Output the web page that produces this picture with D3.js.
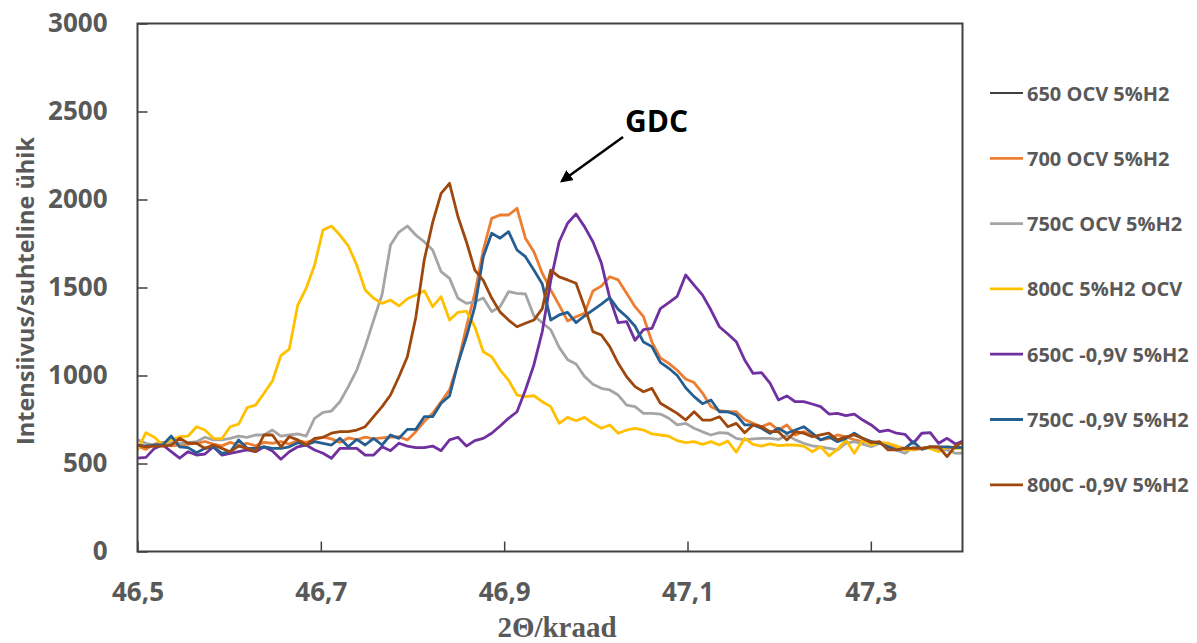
<!DOCTYPE html>
<html>
<head>
<meta charset="utf-8">
<script src="https://cdn.jsdelivr.net/npm/d3@7"></script>
<style>
  body { margin: 0; background: #fff; }
  svg { display: block; }
</style>
</head>
<body>
<svg id="chart" width="1197" height="643"></svg>
<script>
// XRD scan around the GDC reflection, 2θ grid shared by all scans
const twoThetaStart = 46.5;
const twoThetaStep = 0.0092;

const xTicks = [46.5, 46.7, 46.9, 47.1, 47.3];
const yTicks = [0, 500, 1000, 1500, 2000, 2500, 3000];

const seriesNames = [
  "650 OCV 5%H2",
  "700 OCV 5%H2",
  "750C OCV 5%H2",
  "800C 5%H2 OCV",
  "650C -0,9V 5%H2",
  "750C -0,9V 5%H2",
  "800C -0,9V 5%H2"
];
const seriesColors = ["#000000", "#ED7D31", "#A5A5A5", "#FFC000", "#7030A0", "#255E91", "#9E480E"];

// intensities (counts) per scan
const i650ocv = [];
const i700ocv = [
  600, 580, 610, 620, 600, 605, 610, 615, 625, 610,
  600, 620, 605, 615, 600, 620, 615, 625, 610, 630,
  620, 635, 650, 640, 620, 645, 635, 650, 640, 645,
  650, 652, 634, 681, 738, 785, 851, 918, 1069, 1277,
  1467, 1713, 1893, 1912, 1912, 1950, 1780, 1703, 1581, 1486,
  1400, 1310, 1334, 1353, 1480, 1508, 1561, 1543, 1467, 1391,
  1334, 1190, 1100, 1069, 1030, 980, 960, 900, 823, 800,
  794, 794, 750, 728, 709, 728, 690, 719, 662, 681,
  662, 634, 643, 662, 652, 634, 624, 624, 618, 600,
  595, 586, 577, 586, 595, 586, 586, 595, 590
];
const i750ocv = [
  634, 615, 605, 615, 618, 615, 618, 624, 649, 634,
  634, 643, 656, 649, 662, 662, 690, 656, 662, 668,
  656, 757, 791, 798, 851, 937, 1031, 1164, 1315, 1460,
  1741, 1815, 1849, 1798, 1760, 1713, 1590, 1552, 1439, 1410,
  1419, 1440, 1363, 1391, 1476, 1467, 1463, 1340, 1300, 1260,
  1160, 1090, 1065, 995, 950, 927, 918, 889, 832, 823,
  785, 785, 781, 757, 719, 728, 700, 680, 662, 675,
  672, 643, 634, 640, 643, 643, 637, 662, 634, 615,
  600, 595, 586, 577, 615, 624, 610, 595, 615, 595,
  575, 558, 595, 586, 595, 577, 577, 558, 560
];
const i800ocv = [
  577, 675, 649, 605, 634, 652, 656, 709, 690, 643,
  641, 709, 724, 817, 832, 899, 969, 1113, 1150, 1400,
  1495, 1628, 1827, 1849, 1798, 1736, 1628, 1486, 1439, 1410,
  1429, 1395, 1436, 1457, 1482, 1391, 1448, 1315, 1359, 1366,
  1277, 1135, 1107, 1031, 974, 889, 880, 885, 851, 823,
  728, 762, 743, 762, 728, 700, 719, 672, 690, 700,
  690, 668, 662, 655, 630, 618, 624, 609, 624, 605,
  628, 564, 643, 609, 599, 611, 601, 605, 605, 599,
  567, 595, 544, 580, 634, 558, 634, 605, 618, 615,
  600, 577, 580, 586, 586, 567, 595, 586, 586
];
const i650neg = [
  530, 535, 586, 605, 567, 530, 567, 548, 554, 595,
  548, 558, 567, 577, 567, 595, 571, 524, 567, 595,
  605, 577, 558, 530, 586, 586, 586, 548, 548, 595,
  573, 615, 599, 590, 590, 599, 573, 634, 649, 599,
  630, 643, 672, 713, 757, 794, 918, 1060, 1250, 1540,
  1760, 1865, 1918, 1846, 1760, 1640, 1440, 1300, 1306, 1200,
  1260, 1268, 1380, 1414, 1450, 1571, 1514, 1457, 1372, 1277,
  1236, 1192, 1088, 1012, 1016, 956, 861, 884, 851, 851,
  838, 823, 781, 785, 772, 781, 747, 719, 681, 690,
  672, 666, 615, 672, 675, 615, 643, 611, 630
];
const i750neg = [
  605, 599, 605, 605, 656, 595, 590, 561, 586, 595,
  558, 567, 634, 586, 586, 595, 586, 586, 595, 618,
  605, 624, 615, 605, 643, 595, 637, 605, 643, 605,
  662, 643, 694, 694, 766, 766, 842, 884, 1069, 1220,
  1391, 1675, 1808, 1780, 1817, 1713, 1675, 1599, 1520, 1315,
  1344, 1359, 1300, 1338, 1372, 1406, 1442, 1376, 1334, 1280,
  1190, 1164, 1075, 1041, 1000, 930, 880, 840, 861, 794,
  794, 776, 719, 719, 700, 672, 700, 672, 690, 709,
  672, 634, 652, 624, 643, 672, 643, 624, 615, 595,
  577, 586, 624, 580, 595, 595, 595, 590, 592
];
const i800neg = [
  605, 595, 599, 599, 605, 643, 615, 615, 586, 605,
  586, 567, 599, 586, 567, 662, 662, 595, 652, 634,
  605, 643, 649, 672, 681, 681, 690, 709, 766, 823,
  889, 993, 1107, 1330, 1656, 1870, 2035, 2092, 1902, 1760,
  1599, 1540, 1440, 1360, 1315, 1277, 1297, 1315, 1380, 1599,
  1560, 1543, 1524, 1391, 1249, 1230, 1164, 1069, 993, 937,
  908, 927, 842, 814, 785, 747, 794, 747, 747, 766,
  709, 728, 675, 719, 709, 681, 681, 634, 681, 672,
  652, 662, 672, 634, 652, 662, 643, 618, 624, 577,
  577, 586, 586, 586, 595, 595, 539, 600, 624
];

const seriesValues = [i650ocv, i700ocv, i750ocv, i800ocv, i650neg, i750neg, i800neg];

// ---- layout ----
const svg = d3.select("#chart");
const plot = { left: 137.5, right: 962.5, top: 23.5, bottom: 551.5 };
const grey = "#595959";
const axisColor = "#404040";
const uiFont = "'Open Sans', 'Noto Sans', sans-serif";

const x = d3.scaleLinear().domain([46.5, 47.4]).range([plot.left, plot.right]);
const y = d3.scaleLinear().domain([0, 3000]).range([plot.bottom, plot.top]);

svg.append("defs").append("clipPath").attr("id", "plot-clip")
  .append("rect")
  .attr("x", plot.left).attr("y", plot.top)
  .attr("width", plot.right - plot.left).attr("height", plot.bottom - plot.top);

// scan curves, drawn in legend order so later scans sit on top
const line = d3.line()
  .x((d, i) => x(twoThetaStart + i * twoThetaStep))
  .y(d => y(d));

const curves = svg.append("g").attr("clip-path", "url(#plot-clip)");
seriesValues.forEach((vals, k) => {
  if (!vals.length) return;
  curves.append("path")
    .datum(vals)
    .attr("d", line)
    .attr("fill", "none")
    .attr("stroke", seriesColors[k])
    .attr("stroke-width", 2.8)
    .attr("stroke-linejoin", "round")
    .attr("stroke-linecap", "round");
});

// y axis, ticks pointing into the plot
const yAxis = svg.append("g")
  .attr("transform", `translate(${plot.left},0)`)
  .call(d3.axisLeft(y).tickValues(yTicks).tickSizeInner(-10).tickSizeOuter(0).tickPadding(30)
    .tickFormat(d3.format("d")));
yAxis.select(".domain").remove();
yAxis.selectAll(".tick line").attr("stroke", axisColor).attr("stroke-width", 1.5);
yAxis.selectAll(".tick text")
  .attr("fill", grey).attr("font-family", uiFont).attr("font-weight", 700).attr("font-size", 26);

// x axis, ticks pointing up into the plot
const xAxis = svg.append("g")
  .attr("transform", `translate(0,${plot.bottom})`)
  .call(d3.axisBottom(x).tickValues(xTicks).tickSizeInner(-10).tickSizeOuter(0).tickPadding(31)
    .tickFormat(d => d3.format(".1f")(d).replace(".", ",")));
xAxis.select(".domain").remove();
xAxis.selectAll(".tick line").attr("stroke", axisColor).attr("stroke-width", 1.5);
xAxis.selectAll(".tick text")
  .attr("fill", grey).attr("font-family", uiFont).attr("font-weight", 700).attr("font-size", 26);

// plot frame
svg.append("rect")
  .attr("x", plot.left).attr("y", plot.top)
  .attr("width", plot.right - plot.left).attr("height", plot.bottom - plot.top)
  .attr("fill", "none").attr("stroke", axisColor).attr("stroke-width", 2);

// axis titles
svg.append("text")
  .attr("transform", "translate(34,291) rotate(-90)")
  .attr("text-anchor", "middle")
  .attr("fill", grey).attr("font-family", uiFont).attr("font-weight", 700).attr("font-size", 23.5)
  .text("Intensiivus/suhteline ühik");

svg.append("text")
  .attr("x", 557).attr("y", 637)
  .attr("text-anchor", "middle")
  .attr("fill", grey).attr("font-family", "'Liberation Serif', 'DejaVu Serif', serif")
  .attr("font-weight", 700).attr("font-size", 29)
  .text("2Θ/kraad");

// legend
const legend = svg.append("g");
seriesNames.forEach((name, k) => {
  const cy = 93 + k * 65.3;
  legend.append("line")
    .attr("x1", 990).attr("x2", 1023).attr("y1", cy).attr("y2", cy)
    .attr("stroke", seriesColors[k]).attr("stroke-width", k === 0 ? 1.5 : 2.8);
  legend.append("text")
    .attr("x", 1027).attr("y", cy + 7.5)
    .attr("fill", grey).attr("font-family", uiFont).attr("font-weight", 700).attr("font-size", 20)
    .text(name);
});

// GDC annotation
svg.select("defs").append("marker")
  .attr("id", "arrow-head")
  .attr("viewBox", "0 0 10 10").attr("refX", 8).attr("refY", 5)
  .attr("markerWidth", 5).attr("markerHeight", 5).attr("orient", "auto")
  .append("path").attr("d", "M0,0 L10,5 L0,10 Z").attr("fill", "#000");

svg.append("line")
  .attr("x1", 623).attr("y1", 137).attr("x2", 562).attr("y2", 181)
  .attr("stroke", "#000").attr("stroke-width", 2.5)
  .attr("marker-end", "url(#arrow-head)");

svg.append("text")
  .attr("x", 625).attr("y", 132)
  .attr("fill", "#000").attr("font-family", uiFont).attr("font-weight", 700).attr("font-size", 30)
  .text("GDC");
</script>
</body>
</html>
